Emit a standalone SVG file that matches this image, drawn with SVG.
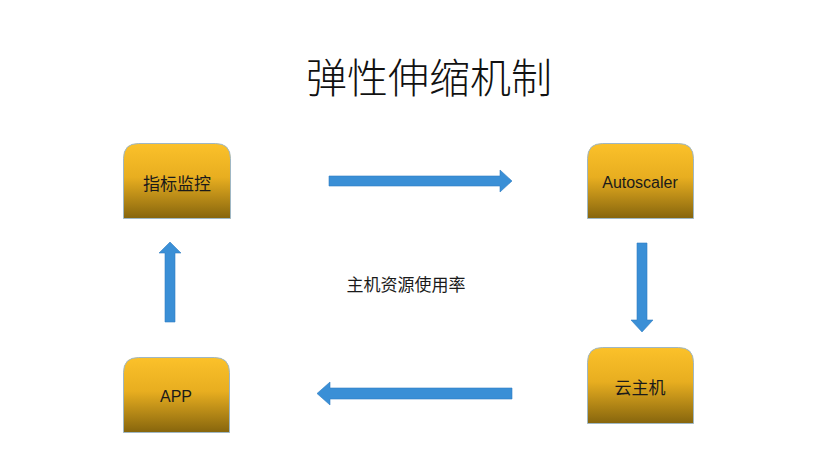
<svg xmlns="http://www.w3.org/2000/svg" width="830" height="458" viewBox="0 0 830 458">
<defs>
<linearGradient id="g" x1="0" y1="0" x2="0" y2="1">
<stop offset="0" stop-color="#FBC12A"/>
<stop offset="0.45" stop-color="#E8AE20"/>
<stop offset="1" stop-color="#86650D"/>
</linearGradient>
</defs>
<style>
.box{fill:url(#g);stroke:#9FB7C4;stroke-width:1}
.lbl{font-family:"Liberation Sans","Noto Sans CJK SC",sans-serif;font-size:16px;fill:#1a1a1a;text-anchor:middle;dominant-baseline:central}
.cjk{font-family:"Noto Sans CJK SC",sans-serif;font-size:17px}
.arr{fill:#3A8FD6;stroke:#2F7EC2;stroke-width:0.6}
</style>
<rect width="830" height="458" fill="#ffffff"/>
<text x="429" y="75" style="font-family:'Noto Sans CJK SC',sans-serif;font-size:41px;font-weight:300;fill:#111;text-anchor:middle;dominant-baseline:central">弹性伸缩机制</text>
<g id="n1"><path class="box" d="M123.5,218.5 V158.5 Q123.5,143.5 138.5,143.5 H215.5 Q230.5,143.5 230.5,158.5 V218.5 Z"/><text class="lbl cjk" x="177" y="182">指标监控</text></g>
<g id="n2"><path class="box" d="M587.5,218.5 V158.5 Q587.5,143.5 602.5,143.5 H678.5 Q693.5,143.5 693.5,158.5 V218.5 Z"/><text class="lbl" x="640" y="182">Autoscaler</text></g>
<g id="n3"><path class="box" d="M587.5,423.5 V362.5 Q587.5,347.5 602.5,347.5 H678.5 Q693.5,347.5 693.5,362.5 V423.5 Z"/><text class="lbl cjk" x="640" y="386">云主机</text></g>
<g id="n4"><path class="box" d="M123.5,432.5 V372.5 Q123.5,357.5 138.5,357.5 H214.5 Q229.5,357.5 229.5,372.5 V432.5 Z"/><text class="lbl" x="176" y="396">APP</text></g>
<g id="connectors">
<polygon class="arr" points="329,176 500,176 500,170 512,181 500,192 500,186 329,186"/>
<polygon class="arr" points="637,243 647,243 647,320 653,320 642,332 631,320 637,320"/>
<polygon class="arr" points="512,388 330,388 330,382 317,393.5 330,405 330,399 512,399"/>
<polygon class="arr" points="165,322 165,253 159,253 170,242 181,253 175,253 175,322"/>
</g>
<text x="406" y="283" style="font-family:'Noto Sans CJK SC',sans-serif;font-size:17px;fill:#1a1a1a;text-anchor:middle;dominant-baseline:central">主机资源使用率</text>
</svg>
